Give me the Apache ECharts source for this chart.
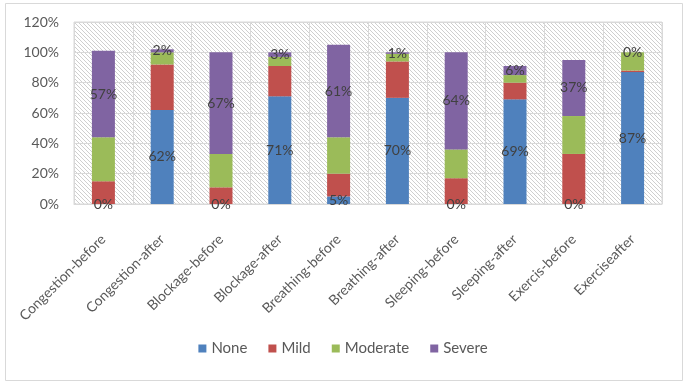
<!DOCTYPE html>
<html>
<head>
<meta charset="utf-8">
<script src="https://cdn.jsdelivr.net/npm/echarts@6/dist/echarts.min.js"></script>
<style>
html,body{margin:0;padding:0;background:#fff;}
#main{width:686px;height:385px;}
</style>
</head>
<body>
<div id="main"></div>
<script>
var categories = ['Congestion-before','Congestion-after','Blockage-before','Blockage-after','Breathing-before','Breathing-after','Sleeping-before','Sleeping-after','Exercis-before','Exerciseafter'];
var noneData = [0, 62, 0, 71, 5, 70, 0, 69, 0, 87];
var mildData = [15, 30, 11, 20, 15, 24, 17, 11, 33, 1];
var moderateData = [29, 8, 22, 6, 24, 5, 19, 5, 25, 12];
var severeData = [57, 2, 67, 3, 61, 1, 64, 6, 37, 0];
var yTicks = { min: 0, max: 120, interval: 20 };

// hatch fill for the plot area
var tile = document.createElement('canvas');
tile.width = 4; tile.height = 4;
var tc = tile.getContext('2d');
tc.fillStyle = '#ffffff';
tc.fillRect(0, 0, 4, 4);
tc.fillStyle = '#cfcfcf';
for (var i = 0; i < 4; i++) { tc.fillRect(i, i, 1, 1); }

var myChart = echarts.init(document.getElementById('main'));

var fontName = 'Lato';
var labelStyle = {
	show: true,
	position: 'inside',
	color: '#404040',
	fontSize: 14,
	fontFamily: fontName,
	formatter: function (p) { return p.value + '%'; }
};

function makeSeries(name, data, color, withLabel) {
	return {
		name: name,
		type: 'bar',
		stack: 'total',
		barWidth: 23,
		data: data,
		itemStyle: { color: color },
		label: withLabel ? labelStyle : { show: false }
	};
}

var option = {
	animation: false,
	backgroundColor: '#fff',
	graphic: [{
		type: 'rect',
		shape: { x: 5.5, y: 3.5, width: 677, height: 377 },
		style: { fill: 'none', stroke: '#d9d9d9', lineWidth: 1 },
		silent: true
	}],
	grid: {
		left: 74,
		right: 24,
		top: 22,
		bottom: 181,
		show: true,
		backgroundColor: { image: tile, repeat: 'repeat' },
		borderColor: '#d9d9d9',
		borderWidth: 1
	},
	legend: {
		bottom: 24,
		left: 'center',
		icon: 'rect',
		itemWidth: 8,
		itemHeight: 8,
		itemGap: 21,
		textStyle: { color: '#595959', fontSize: 15, fontFamily: fontName },
		data: ['None', 'Mild', 'Moderate', 'Severe']
	},
	xAxis: {
		type: 'category',
		data: categories,
		axisTick: { show: false },
		axisLine: { lineStyle: { color: '#d9d9d9' } },
		splitLine: { show: true, lineStyle: { color: '#d9d9d9' } },
		axisLabel: {
			rotate: 45,
			interval: 0,
			margin: 33,
			color: '#595959',
			fontSize: 14,
			fontFamily: fontName
		}
	},
	yAxis: {
		type: 'value',
		min: yTicks.min,
		max: yTicks.max,
		interval: yTicks.interval,
		axisLine: { show: false },
		axisTick: { show: false },
		splitLine: { lineStyle: { color: '#d9d9d9' } },
		axisLabel: {
			margin: 15,
			color: '#595959',
			fontSize: 14,
			fontFamily: fontName,
			formatter: '{value}%'
		}
	},
	series: [
		makeSeries('None', noneData, '#4f81bd', true),
		makeSeries('Mild', mildData, '#c0504d', false),
		makeSeries('Moderate', moderateData, '#9bbb59', false),
		makeSeries('Severe', severeData, '#8064a2', true)
	]
};
myChart.setOption(option);
</script>
</body>
</html>
